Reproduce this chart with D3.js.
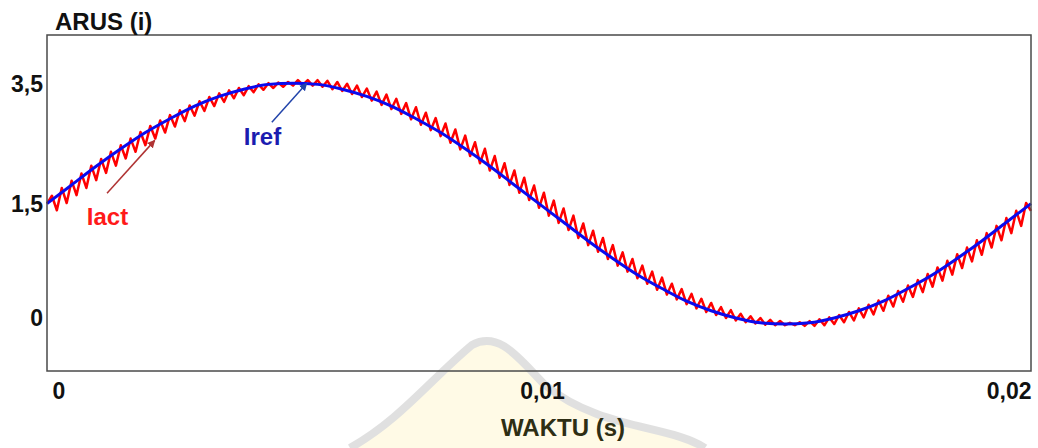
<!DOCTYPE html>
<html><head><meta charset="utf-8">
<script src="https://cdn.jsdelivr.net/npm/d3@7/dist/d3.min.js"></script>
<style>
html,body{margin:0;padding:0;background:#fff;}
svg{display:block;font-family:"Liberation Sans",Arial,sans-serif;}
</style>
</head><body>
<svg id="chart" width="1038" height="448"></svg>
<script>
// ---- data ----
const timeDomain = [0, 0.02];
const irefStep = 0.0005;
const irefValues = [1.50,1.81,2.12,2.41,2.68,2.91,3.12,3.28,3.40,3.48,3.50,3.48,3.40,3.28,3.12,2.91,2.68,2.41,2.12,1.81,
  1.50,1.19,0.88,0.59,0.32,0.09,-0.12,-0.28,-0.40,-0.48,-0.50,-0.48,-0.40,-0.28,-0.12,0.09,0.32,0.59,0.88,1.19,1.50];
const iactStep = 0.0001;
const iactValues = [
  1.50,1.63,1.39,1.76,1.51,1.88,1.64,2.00,1.76,2.13,
  1.89,2.24,2.01,2.36,2.13,2.47,2.25,2.58,2.36,2.69,
  2.47,2.79,2.58,2.88,2.68,2.97,2.78,3.05,2.87,3.13,
  2.96,3.20,3.04,3.27,3.12,3.33,3.19,3.38,3.25,3.42,
  3.30,3.45,3.35,3.48,3.39,3.50,3.42,3.51,3.44,3.52,
  3.46,3.55,3.47,3.55,3.46,3.55,3.44,3.54,3.40,3.52,
  3.37,3.49,3.32,3.46,3.27,3.41,3.21,3.36,3.14,3.31,
  3.07,3.24,2.99,3.17,2.90,3.10,2.81,3.01,2.72,2.92,
  2.62,2.83,2.51,2.73,2.40,2.63,2.29,2.52,2.17,2.41,
  2.05,2.29,1.93,2.17,1.81,2.05,1.68,1.93,1.56,1.80,
  1.43,1.68,1.30,1.55,1.18,1.42,1.06,1.30,0.93,1.17,
  0.81,1.05,0.70,0.93,0.58,0.81,0.47,0.69,0.37,0.58,
  0.26,0.47,0.17,0.37,0.07,0.27,-0.01,0.17,-0.09,0.08,
  -0.17,0.00,-0.24,-0.08,-0.30,-0.15,-0.35,-0.22,-0.40,-0.27,
  -0.44,-0.33,-0.47,-0.37,-0.49,-0.40,-0.51,-0.43,-0.52,-0.45,
  -0.52,-0.48,-0.52,-0.47,-0.53,-0.45,-0.53,-0.42,-0.52,-0.39,
  -0.50,-0.35,-0.47,-0.30,-0.44,-0.24,-0.39,-0.18,-0.34,-0.11,
  -0.28,-0.03,-0.21,0.05,-0.13,0.14,-0.05,0.23,0.03,0.33,
  0.12,0.44,0.22,0.55,0.32,0.66,0.43,0.77,0.54,0.89,
  0.65,1.01,0.77,1.13,0.89,1.26,1.01,1.38,1.13,1.51,
  1.38];
const xTickValues = [0, 0.01, 0.02];
const xTickLabels = ["0", "0,01", "0,02"];
const yTickValues = [3.5, 1.5, -0.38];
const yTickLabels = ["3,5", "1,5", "0"];
const yDomain = [-1.28, 4.30];
// annotations in data space: [t, value]
const iactLabelPos = [0.00081, 1.14];
const iactArrow = [[0.00122, 1.67], [0.00219, 2.55]];
const irefLabelPos = [0.00400, 2.47];
const irefArrow = [[0.00457, 2.85], [0.00528, 3.50]];

// ---- layout ----
const W = 1038, H = 448;
const M = {left: 47, right: 7, top: 35, bottom: 77};
const svg = d3.select("#chart");
const x = d3.scaleLinear().domain(timeDomain).range([M.left, W - M.right]);
const y = d3.scaleLinear().domain(yDomain).range([H - M.bottom, M.top]);

// watermark (very faint)
const wm = svg.append("g").attr("opacity", 0.35);
wm.append("path")
  .attr("d", "M350,448 C400,420 430,380 472,345 C500,330 520,360 545,385 C600,430 670,425 705,448 Z")
  .attr("fill", "#fff3b8");
wm.append("path")
  .attr("d", "M350,448 C400,420 430,380 472,345 C500,330 520,360 545,385 C600,430 670,425 705,448")
  .attr("fill", "none").attr("stroke", "#a8a8a8").attr("stroke-width", 8);

// defs
const defs = svg.append("defs");
function marker(id, color){
  defs.append("marker").attr("id", id).attr("viewBox", "0 0 10 10")
    .attr("refX", 9).attr("refY", 5).attr("markerWidth", 8).attr("markerHeight", 8)
    .attr("markerUnits", "userSpaceOnUse").attr("orient", "auto")
    .append("path").attr("d", "M0,0 L10,5 L0,10 Z").attr("fill", color);
}
marker("arRed", "#b03434");
marker("arBlue", "#2244aa");

// lines
const iactData = iactValues.map((v, i) => ({t: i * iactStep, v}));
const irefData = irefValues.map((v, i) => ({t: i * irefStep, v}));
const lineLin = d3.line().x(d => x(d.t)).y(d => y(d.v));
const lineSmooth = d3.line().x(d => x(d.t)).y(d => y(d.v)).curve(d3.curveMonotoneX);

svg.append("path").datum(iactData).attr("d", lineLin)
  .attr("fill", "none").attr("stroke", "#ff0000").attr("stroke-width", 2.5)
  .attr("stroke-linejoin", "round");
svg.append("path").datum(irefData).attr("d", lineSmooth)
  .attr("fill", "none").attr("stroke", "#0a0aee").attr("stroke-width", 3);

// frame
svg.append("rect").attr("x", M.left).attr("y", M.top)
  .attr("width", W - M.left - M.right).attr("height", H - M.top - M.bottom)
  .attr("fill", "none").attr("stroke", "#4a4a4a").attr("stroke-width", 1.5);

// axes
const xAxis = d3.axisBottom(x).tickValues(xTickValues).tickSize(0)
  .tickFormat((d, i) => xTickLabels[i]);
const gx = svg.append("g").attr("transform", `translate(0,${H - M.bottom})`).call(xAxis);
gx.select(".domain").remove();
gx.selectAll("text").attr("font-size", 23).attr("font-weight", "bold").attr("fill", "#111")
  .attr("font-family", "'Liberation Sans',Arial,sans-serif")
  .attr("dy", 0).attr("y", 28)
  .attr("text-anchor", (d, i) => i === 0 ? "start" : (i === xTickValues.length - 1 ? "end" : "middle"))
  .attr("dx", (d, i) => i === 0 ? 5 : (i === xTickValues.length - 1 ? 0 : 3));

const yAxis = d3.axisLeft(y).tickValues(yTickValues).tickSize(0)
  .tickFormat((d, i) => yTickLabels[i]);
const gy = svg.append("g").attr("transform", `translate(${M.left},0)`).call(yAxis);
gy.select(".domain").remove();
gy.selectAll("text").attr("font-size", 23).attr("font-weight", "bold").attr("fill", "#111")
  .attr("font-family", "'Liberation Sans',Arial,sans-serif")
  .attr("x", -4).attr("dy", "0.36em");

// axis titles
svg.append("text").attr("x", 55).attr("y", 30).text("ARUS (i)")
  .attr("font-size", 24).attr("font-weight", "bold").attr("fill", "#111");
svg.append("text").attr("x", 563).attr("y", 436).attr("text-anchor", "middle").text("WAKTU (s)")
  .attr("font-size", 24).attr("font-weight", "bold").attr("fill", "#2e2e14");

// annotations
svg.append("line")
  .attr("x1", x(iactArrow[0][0])).attr("y1", y(iactArrow[0][1]))
  .attr("x2", x(iactArrow[1][0])).attr("y2", y(iactArrow[1][1]))
  .attr("stroke", "#b03434").attr("stroke-width", 1.5).attr("marker-end", "url(#arRed)");
svg.append("text").attr("x", x(iactLabelPos[0])).attr("y", y(iactLabelPos[1]))
  .text("Iact").attr("font-size", 24).attr("font-weight", "bold").attr("fill", "#ff1a1a");

svg.append("line")
  .attr("x1", x(irefArrow[0][0])).attr("y1", y(irefArrow[0][1]))
  .attr("x2", x(irefArrow[1][0])).attr("y2", y(irefArrow[1][1]))
  .attr("stroke", "#2244aa").attr("stroke-width", 1.5).attr("marker-end", "url(#arBlue)");
svg.append("text").attr("x", x(irefLabelPos[0])).attr("y", y(irefLabelPos[1]))
  .text("Iref").attr("font-size", 24).attr("font-weight", "bold").attr("fill", "#1c1cb0");
</script>
</body></html>
